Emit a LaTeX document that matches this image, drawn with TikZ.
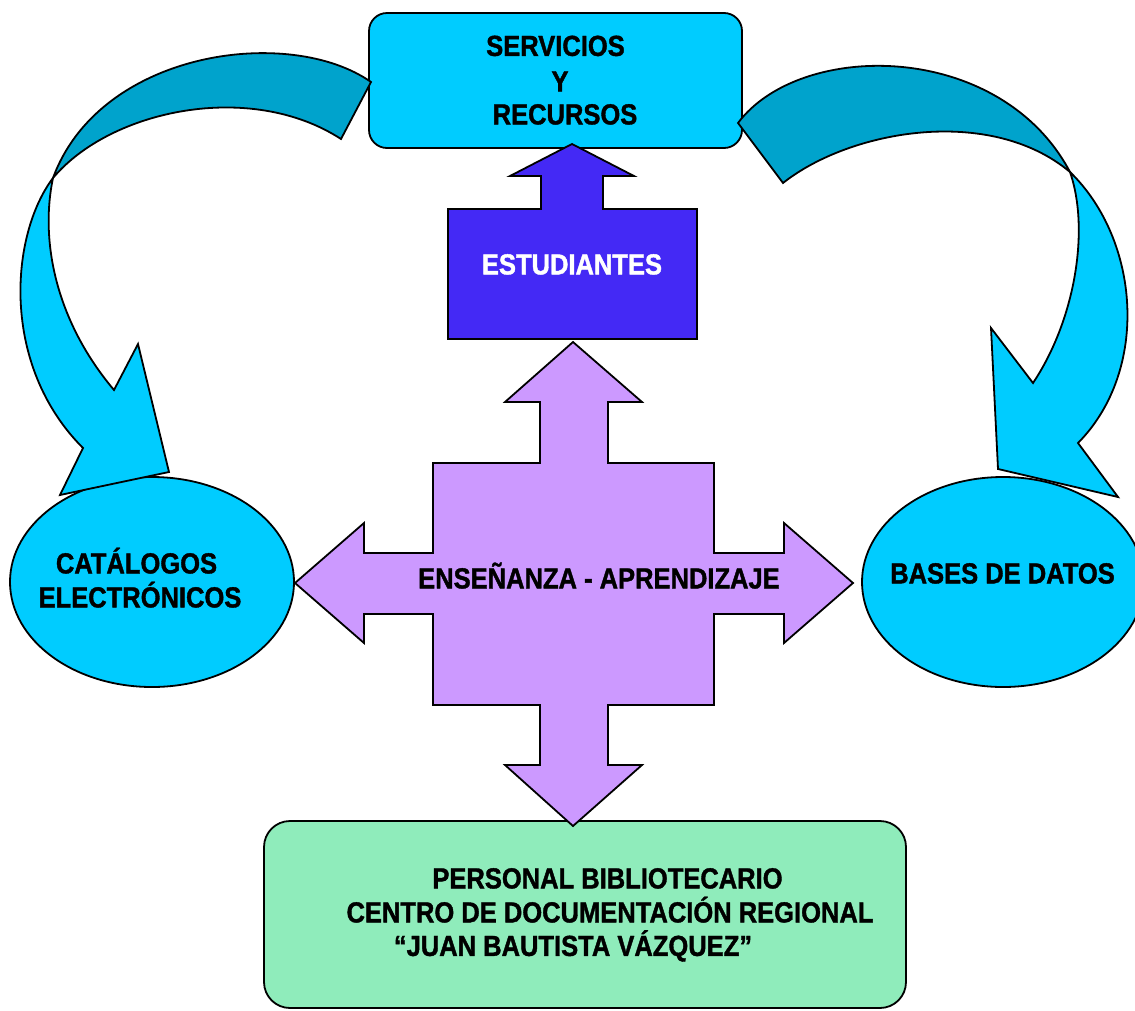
\documentclass[tikz,border=0pt]{standalone}
\usepackage{fontspec}
\usetikzlibrary{shapes.geometric}
\newfontfamily\lblfont{Liberation Sans}[FakeStretch=0.88, BoldFeatures={FakeBold=1.3}]
\definecolor{cyanbox}{RGB}{0,204,255}
\definecolor{darkband}{RGB}{0,163,204}
\definecolor{estcol}{RGB}{68,41,245}
\definecolor{crosscol}{RGB}{204,153,255}
\definecolor{greencol}{RGB}{143,236,187}
\begin{document}
\begin{tikzpicture}[x=1pt,y=-1pt, line width=1.8pt, line join=miter,
  lbl/.style={font=\lblfont\bfseries\fontsize{29}{34}\selectfont, inner sep=0pt, text height=20.8pt, text depth=0pt},
  shapeline/.style={draw=black, line width=1.8pt},
  roundbox/.style={shapeline, rectangle, inner sep=0pt},
  oval/.style={shapeline, ellipse, fill=cyanbox, inner sep=0pt}]
\useasboundingbox (0,0) rectangle (1135,1010);

% boxes and ellipses
\node[roundbox, fill=cyanbox, rounded corners=18pt, minimum width=373pt, minimum height=135pt] (serv) at (555.5,80.5) {};
\node[oval, minimum width=284pt, minimum height=210pt] (cat) at (152,582) {};
\node[oval, minimum width=282pt, minimum height=210pt] (bases) at (1003,582) {};
\node[roundbox, fill=greencol, rounded corners=26pt, minimum width=642pt, minimum height=187pt] (pers) at (585,914.5) {};

% left curved arrow
\draw[shapeline, fill=darkband] (371,82) .. controls (290,25) and (100,50) .. (53,178)
  .. controls (110,110) and (250,80) .. (341,139) -- cycle;
\draw[shapeline, fill=cyanbox] (53,178) .. controls (10,235) and (0,365) .. (83,448)
  -- (60,495) -- (169,472) -- (138,344) -- (114,390)
  .. controls (55,320) and (40,240) .. (53,178) -- cycle;

% right curved arrow
\draw[shapeline, fill=darkband] (738,123) .. controls (800,40) and (1000,40) .. (1070,172)
  .. controls (990,105) and (850,130) .. (783,183) -- cycle;
\draw[shapeline, fill=cyanbox] (1070,172) .. controls (1140,240) and (1150,370) .. (1078,443)
  -- (1118,497) -- (998,469) -- (991,328) -- (1033,383)
  .. controls (1075,320) and (1090,230) .. (1070,172) -- cycle;

% estudiantes shape
\draw[shapeline, fill=estcol] (572,144) -- (634,176) -- (603,176) -- (603,209) -- (697,209)
  -- (697,339) -- (448,339) -- (448,209) -- (541,209) -- (541,176) -- (510,176) -- cycle;

% four-way arrow
\draw[shapeline, fill=crosscol] (573,342) -- (642,402) -- (608,402) -- (608,463) -- (714,463)
  -- (714,553) -- (784,553) -- (784,523) -- (853,583) -- (784,643) -- (784,614) -- (714,614)
  -- (714,705) -- (608,705) -- (608,765) -- (642,765) -- (573,826) -- (505,765) -- (540,765)
  -- (540,705) -- (433,705) -- (433,614) -- (364,614) -- (364,643) -- (295,583) -- (364,523)
  -- (364,553) -- (433,553) -- (433,463) -- (540,463) -- (540,402) -- (505,402) -- cycle;

% texts
\node[lbl] (t1) at (555.5,45.5) {SERVICIOS};
\node[lbl] (t2) at (560,81) {Y};
\node[lbl] (t3) at (565,114) {RECURSOS};
\node[lbl, text=white] (t4) at (572,264) {ESTUDIANTES};
\node[lbl] (t5) at (599,578) {ENSEÑANZA - APRENDIZAJE};
\node[lbl] (t6) at (136.5,563) {CATÁLOGOS};
\node[lbl] (t7) at (140,597) {ELECTRÓNICOS};
\node[lbl] (t8) at (1002.5,573) {BASES DE DATOS};
\node[lbl] (t9) at (607.5,878) {PERSONAL BIBLIOTECARIO};
\node[lbl] (t10) at (610,912) {CENTRO DE DOCUMENTACIÓN REGIONAL};
\node[lbl] (t11) at (573,945.5) {“JUAN BAUTISTA VÁZQUEZ”};
\end{tikzpicture}
\end{document}
